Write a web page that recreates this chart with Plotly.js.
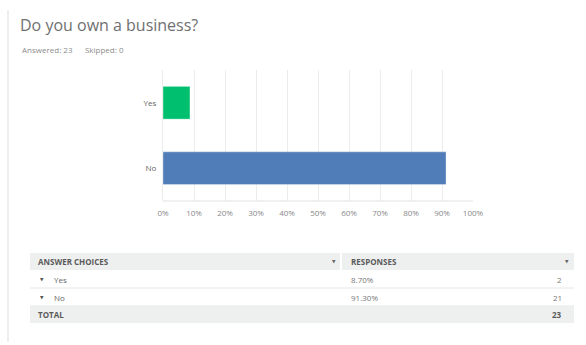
<!DOCTYPE html>
<html>
<head>
<meta charset="utf-8">
<script src="https://cdn.plot.ly/plotly-3.0.1.min.js"></script>
<style>html,body{margin:0;padding:0;background:#fff;}#chart{width:586px;height:345px;}</style>
</head>
<body>
<div id="chart"></div>
<script>
const titleText = 'Do you own a business?';
const answeredCount = 23;
const skippedCount = 0;
const choices = ['Yes', 'No'];
const percents = [8.70, 91.30];
const counts = [2, 21];
const barColors = ['#00bf6f', '#507cb7'];
const xTicks = [0, 10, 20, 30, 40, 50, 60, 70, 80, 90, 100];
const headerLabels = ['ANSWER CHOICES', 'RESPONSES'];
const totalLabel = 'TOTAL';

const W = 586, H = 345;
const px = x => x / W;
const py = y => 1 - y / H;
const FONT = 'Open Sans, Roboto, sans-serif';

const totalCount = counts.reduce((a, b) => a + b, 0);

const trace = {
  type: 'bar',
  orientation: 'h',
  y: choices.slice().reverse(),
  x: percents.slice().reverse(),
  marker: { color: barColors.slice().reverse(), line: { color: 'rgba(255,255,255,0.35)', width: 1 } },
  width: 0.5,
  hoverinfo: 'none'
};

const shapes = [];
const annotations = [];

// left border
shapes.push({ type: 'rect', xref: 'paper', yref: 'paper', x0: px(7), x1: px(9), y0: py(10), y1: py(342), fillcolor: '#eeeeee', line: { width: 0 }, layer: 'below' });

// subtitle
annotations.push({ xref: 'paper', yref: 'paper', x: px(20), y: py(50), xanchor: 'left', yanchor: 'middle', showarrow: false,
  text: 'Answered: ' + answeredCount + '&nbsp;&nbsp;&nbsp;&nbsp;&nbsp;&nbsp;Skipped: ' + skippedCount,
  font: { family: FONT, size: 8, color: '#8c8c8c' } });

// table geometry
const tL = 30, tR = 574, colDiv = 341;
const headerTop = 253, rowH = 18;
shapes.push({ type: 'rect', xref: 'paper', yref: 'paper', x0: px(tL), x1: px(colDiv - 1), y0: py(headerTop), y1: py(headerTop + 17), fillcolor: '#eef0f0', line: { width: 0 } });
shapes.push({ type: 'rect', xref: 'paper', yref: 'paper', x0: px(colDiv + 1), x1: px(tR), y0: py(headerTop), y1: py(headerTop + 17), fillcolor: '#eef0f0', line: { width: 0 } });
const hy = headerTop + 8.5;
annotations.push({ xref: 'paper', yref: 'paper', x: px(36), y: py(hy), xanchor: 'left', yanchor: 'middle', showarrow: false, text: '<b>' + headerLabels[0] + '</b>', font: { family: FONT, size: 8, color: '#5a5a5a' } });
annotations.push({ xref: 'paper', yref: 'paper', x: px(349), y: py(hy), xanchor: 'left', yanchor: 'middle', showarrow: false, text: '<b>' + headerLabels[1] + '</b>', font: { family: FONT, size: 8, color: '#5a5a5a' } });
annotations.push({ xref: 'paper', yref: 'paper', x: px(334), y: py(hy), xanchor: 'center', yanchor: 'middle', showarrow: false, text: '▼', font: { family: 'DejaVu Sans', size: 4.5, color: '#666' } });
annotations.push({ xref: 'paper', yref: 'paper', x: px(567), y: py(hy), xanchor: 'center', yanchor: 'middle', showarrow: false, text: '▼', font: { family: 'DejaVu Sans', size: 4.5, color: '#666' } });

choices.forEach((c, i) => {
  const top = headerTop + 17 + i * rowH;
  const cy = top + rowH / 2;
  shapes.push({ type: 'line', xref: 'paper', yref: 'paper', x0: px(tL), x1: px(tR), y0: py(top + rowH), y1: py(top + rowH), line: { color: '#e4e6e6', width: 1 } });
  annotations.push({ xref: 'paper', yref: 'paper', x: px(42), y: py(cy), xanchor: 'center', yanchor: 'middle', showarrow: false, text: '▼', font: { family: 'DejaVu Sans', size: 4.5, color: '#555' } });
  annotations.push({ xref: 'paper', yref: 'paper', x: px(52), y: py(cy), xanchor: 'left', yanchor: 'middle', showarrow: false, text: c, font: { family: FONT, size: 8, color: '#666' } });
  annotations.push({ xref: 'paper', yref: 'paper', x: px(349), y: py(cy), xanchor: 'left', yanchor: 'middle', showarrow: false, text: percents[i].toFixed(2) + '%', font: { family: FONT, size: 8, color: '#777' } });
  annotations.push({ xref: 'paper', yref: 'paper', x: px(564), y: py(cy), xanchor: 'right', yanchor: 'middle', showarrow: false, text: String(counts[i]), font: { family: FONT, size: 8, color: '#777' } });
});

const totTop = headerTop + 17 + choices.length * rowH;
shapes.push({ type: 'rect', xref: 'paper', yref: 'paper', x0: px(tL), x1: px(tR), y0: py(totTop), y1: py(totTop + 17), fillcolor: '#eef0f0', line: { width: 0 } });
annotations.push({ xref: 'paper', yref: 'paper', x: px(36), y: py(totTop + 8.5), xanchor: 'left', yanchor: 'middle', showarrow: false, text: '<b>' + totalLabel + '</b>', font: { family: FONT, size: 8, color: '#5a5a5a' } });
annotations.push({ xref: 'paper', yref: 'paper', x: px(564), y: py(totTop + 8.5), xanchor: 'right', yanchor: 'middle', showarrow: false, text: '<b>' + totalCount + '</b>', font: { family: FONT, size: 8, color: '#5a5a5a' } });

// bottom axis line
shapes.push({ type: 'line', xref: 'paper', yref: 'paper', x0: px(163), x1: px(473), y0: py(201), y1: py(201), line: { color: '#e2e2e2', width: 1 } });

const layout = {
  width: W, height: H,
  margin: { l: 0, r: 0, t: 0, b: 0 },
  paper_bgcolor: '#ffffff', plot_bgcolor: '#ffffff',
  showlegend: false,
  title: { text: titleText, x: px(20), xanchor: 'left', y: py(25), yanchor: 'middle', font: { family: FONT, size: 16, color: '#707070' } },
  xaxis: {
    domain: [px(163), px(473)],
    range: [0, 100],
    tickvals: xTicks,
    ticktext: xTicks.map(v => v + '%'),
    showgrid: true, gridcolor: '#ececec', gridwidth: 1,
    zeroline: false, showline: false,
    ticks: '', ticklabelstandoff: 6,
    tickfont: { family: FONT, size: 8, color: '#888' },
    fixedrange: true
  },
  yaxis: {
    domain: [py(201), py(70)],
    type: 'category',
    categoryorder: 'array', categoryarray: choices.slice().reverse(),
    range: [-0.5, 1.5],
    showgrid: false, zeroline: false,
    showline: true, linecolor: '#ececec',
    ticks: '', ticklabelstandoff: 4,
    tickfont: { family: FONT, size: 8, color: '#666' },
    fixedrange: true
  },
  shapes: shapes,
  annotations: annotations
};

Plotly.newPlot('chart', [trace], layout, { staticPlot: true, displayModeBar: false });
</script>
</body>
</html>
